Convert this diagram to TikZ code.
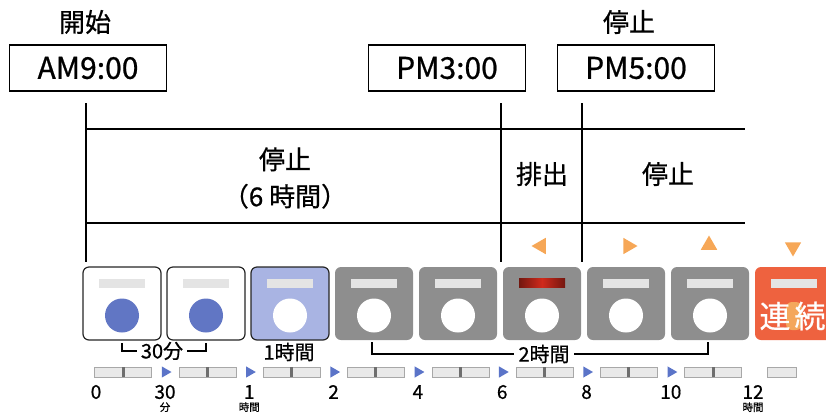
\documentclass[tikz,border=0pt]{standalone}
\usepackage{fontspec}
\setmainfont{Noto Sans CJK JP}[FakeBold=0.7]
\usepackage{xcolor}
\usetikzlibrary{shapes.geometric, positioning, calc}

\definecolor{knobblue}{HTML}{6176C4}
\definecolor{btnlit}{HTML}{A9B4E3}
\definecolor{btngray}{HTML}{8E8E8E}
\definecolor{lampgray}{HTML}{E4E4E4}
\definecolor{lampred}{HTML}{D02A1C}
\definecolor{btnred}{HTML}{EE623F}
\definecolor{blobor}{HTML}{F4A75C}
\definecolor{cueorange}{HTML}{F6A757}
\definecolor{pointerblue}{HTML}{5B74C8}
\definecolor{slotgray}{HTML}{E9E9E9}
\definecolor{slotedge}{HTML}{A8A8A8}
\definecolor{slottick}{HTML}{6E6E6E}

\begin{document}
\begin{tikzpicture}[
    x=1pt, y=-1pt,
    timebox/.style={rectangle, draw, line width=1.2pt, minimum width=157pt, minimum height=46pt, inner sep=0pt, font=\fontsize{30}{30}\selectfont},
    head/.style={font=\fontsize{26}{26}\selectfont},
    phase/.style={font=\fontsize{26}{37}\selectfont, align=center},
    rule/.style={line width=1.3pt},
    button/.style={rectangle, rounded corners=6pt, minimum width=78pt, minimum height=73pt, inner sep=0pt},
    btnwhite/.style={fill=white, draw=black!85, line width=1.2pt},
    btnblue/.style={fill=btnlit, draw=black!85, line width=1.2pt},
    btnoff/.style={fill=btngray},
    btncont/.style={fill=btnred},
    lamp/.style={rectangle, fill=lampgray, minimum width=46pt, minimum height=9pt, inner sep=0pt},
    knob/.style={circle, minimum size=34pt, inner sep=0pt},
    cue/.style={regular polygon, regular polygon sides=3, fill=cueorange, minimum size=19pt, inner sep=0pt},
    pointer/.style={regular polygon, regular polygon sides=3, fill=pointerblue, minimum size=13pt, inner sep=0pt, rotate=-90},
    slot/.style={rectangle, draw=slotedge, fill=slotgray, minimum width=57pt, minimum height=10pt, inner sep=0pt},
    num/.style={font=\fontsize{19}{19}\selectfont, inner sep=0pt},
    unit/.style={font=\fontsize{10.5}{10.5}\selectfont, inner sep=0pt},
    lbl/.style={font=\fontsize{20}{20}\selectfont, inner sep=4pt}
]
\useasboundingbox (0,0) rectangle (826,416);
\clip (0,0) rectangle (826,416);

% times
\node[head] (begin) at (85,22) {開始};
\node[timebox] (am9) at (88,68) {AM9:00};
\node[timebox] (pm3) at (447,68) {PM3:00};
\node[timebox] (pm5) at (636,68) {PM5:00};
\node[head] (halt) at (629,22) {停止};

% grid
\coordinate (v0top) at (86,103);  \coordinate (v0bot) at (86,262);
\coordinate (v1top) at (501,103); \coordinate (v1bot) at (501,262);
\coordinate (v2top) at (582,103); \coordinate (v2bot) at (582,262);
\coordinate (h0end) at (745,129); \coordinate (h1end) at (745,223);
\draw[rule] (v0top) -- (v0bot);
\draw[rule] (v1top) -- (v1bot);
\draw[rule] (v2top) -- (v2bot);
\draw[rule] (v0top |- h0end) -- (h0end);
\draw[rule] (v0top |- h1end) -- (h1end);

\node[phase] (idle1) at (285,178) {停止\\（6 時間）};
\node[phase] (drain) at (542,174) {排出};
\node[phase] (idle2) at (668,174) {停止};

% orange cues
\node[cue, rotate=90] (cueL) at (541,246) {};
\node[cue, rotate=-90] (cueR) at (628,246) {};
\node[cue] (cueU) at (709,245) {};
\node[cue, rotate=180] (cueD) at (793,247) {};

% buttons
\foreach \i/\sty in {0/btnwhite,1/btnwhite,2/btnblue,3/btnoff,4/btnoff,5/btnoff,6/btnoff,7/btnoff,8/btncont}
  \node[button, \sty] (B\i) at ({122+84*\i},303.5) {};
\foreach \i in {0,1,2,3,4,6,7,8}
  \node[lamp] (lamp\i) at ($(B\i)+(0,-20.5)$) {};
\node[lamp, left color=lampred!55!black, right color=lampred!55!black, middle color=lampred] (lamp5) at ($(B5)+(0,-20.5)$) {};
\foreach \i/\col in {0/knobblue,1/knobblue,2/white,3/white,4/white,5/white,6/white,7/white}
  \node[knob, fill=\col] (K\i) at ($(B\i)+(0,12)$) {};
\node[fill=blobor, rounded corners=6pt, minimum width=16pt, minimum height=28pt, inner sep=0pt] (blob) at (794,316) {};
\node[font=\fontsize{31}{31}\selectfont, text=white, inner sep=0pt] (cont1) at (775,316) {連};
\node[font=\fontsize{31}{31}\selectfont, text=white, inner sep=0pt] (cont2) at (810,316) {続};

% brackets
\node[lbl] (half) at (162,351) {30分};
\node[lbl] (hour1) at (289,352) {1時間};
\node[lbl] (hour2) at (544,354) {2時間};
\coordinate (hbL) at (122,343); \coordinate (hbR) at (206,343);
\coordinate (h2L) at (372,342); \coordinate (h2R) at (708,342);
\draw[line width=1.3pt] (hbL) |- (half.west);
\draw[line width=1.3pt] (hbR) |- (half.east);
\draw[line width=1.3pt] (h2L) |- (hour2.west);
\draw[line width=1.3pt] (h2R) |- (hour2.east);

% timeline
\foreach \i in {0,...,7} {
  \node[slot] (S\i) at ({123+84.3*\i},372) {};
  \fill[slottick] ($(S\i)+(-1.5,-5)$) rectangle ($(S\i)+(1.5,5)$);
}
\node[slot, minimum width=29pt] (S8) at (782,372) {};
\foreach \i in {0,...,6}
  \node[pointer] (P\i) at ({165+84.3*\i},372) {};

\node[num] (n0) at (96,392) {0};
\foreach \i/\t in {0/30,1/1,2/2,3/4,4/6,5/8,6/10}
  \node[num] (n\t) at ({165+84.3*\i},392) {\t};
\node[num] (n12) at (753,392) {12};
\node[unit, below=3pt of n30] (u30) {分};
\node[unit, below=3pt of n1] (u1) {時間};
\node[unit, below=3pt of n12] (u12) {時間};

\end{tikzpicture}
\end{document}
